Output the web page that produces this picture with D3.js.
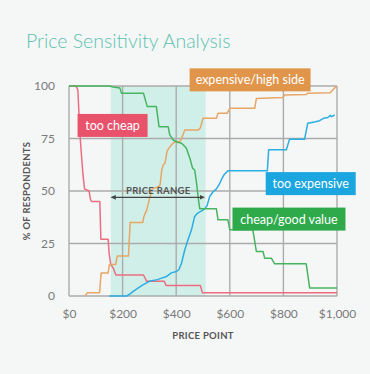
<!DOCTYPE html>
<html>
<head>
<meta charset="utf-8">
<script src="https://cdn.jsdelivr.net/npm/d3@7"></script>
<style>
  body { margin: 0; background: #f5f7f7; }
  svg { display: block; font-family: Lato, "Open Sans", sans-serif; }
</style>
</head>
<body>
<svg id="chart" width="370" height="374"></svg>
<script>
// price ticks and percentage ticks
var xTicks = [0, 200, 400, 600, 800, 1000]
var xTickLabels = ['$0', '$200', '$400', '$600', '$800', '$1,000']
var yTicks = [0, 25, 50, 75, 100]

// acceptable price range (shaded band)
var priceRange = [156, 510]

// series, [price, % of respondents]
var tooCheap = [[0, 100], [25, 100], [30, 99], [33, 98], [38, 85], [42, 75], [46, 68], [52, 58], [58, 51], [75, 50],
  [80, 46], [84, 45], [115, 45], [119, 27], [146, 27], [150, 20], [156, 15], [166, 13], [175, 10], [278, 10],
  [290, 7], [356, 7], [362, 5], [490, 5], [498, 1.5], [1000, 1.5]]

var expensiveHigh = [[60, 0], [68, 1.5], [114, 1.5], [120, 11], [146, 11], [151, 15], [174, 15], [180, 19], [222, 19],
  [228, 35], [275, 35], [280, 38], [290, 41], [300, 46], [310, 51], [334, 52], [340, 53], [346, 60], [352, 62.5],
  [358, 63.2], [366, 69], [376, 71], [386, 72.5], [395, 73.5], [413, 73.5], [420, 75], [432, 79], [482, 79],
  [490, 80], [500, 84.6], [550, 84.6], [556, 87], [590, 87], [600, 89.4], [693, 89.4], [699, 94], [798, 94.5],
  [805, 95.7], [885, 96], [891, 96.5], [975, 96.8], [998, 100]]

var tooExpensive = [[150, 0], [215, 0], [228, 1], [240, 2.2], [260, 4], [277, 5.4], [300, 7], [330, 7.8], [345, 8.5],
  [364, 9.3], [382, 11], [401, 11.7], [410, 12.5], [420, 15.7], [432, 22], [444, 26.8], [457, 31.5], [469, 37.9],
  [480, 39.5], [495, 40.5], [506, 41.5], [515, 43], [525, 47.4], [537, 49.5], [550, 51], [560, 53], [569, 55.5],
  [580, 58], [593, 59.6], [740, 59.6], [745, 69.6], [811, 69.6], [823, 74.7], [879, 74.7], [891, 82.3], [920, 83],
  [935, 83.5], [950, 84.6], [966, 85], [975, 86], [980, 85.4], [991, 86.2]]

var cheapGood = [[0, 100], [150, 100], [165, 99.5], [190, 99], [196, 96.5], [278, 96.5], [292, 90.2], [326, 90.2],
  [336, 80.6], [370, 80.6], [376, 76.7], [389, 74.3], [405, 73.2], [420, 72.7], [426, 72], [438, 70.4], [451, 65.6],
  [461, 60.9], [469, 60], [476, 53.7], [484, 45], [488, 41.5], [550, 41.5], [556, 36.3], [593, 36.3], [600, 31.5],
  [686, 31.5], [699, 21.2], [724, 21.2], [730, 18], [755, 18], [767, 15.4], [885, 15.4], [898, 3.8], [1000, 3.8]]

var seriesNames = ['too cheap', 'expensive/high side', 'too expensive', 'cheap/good value']
var seriesData = [tooCheap, expensiveHigh, tooExpensive, cheapGood]
var seriesColors = ['#e8536b', '#e0954b', '#1ba6e0', '#2eaa4b']
var lineColors = ['#ec6d80', '#e7a665', '#2aaee3', '#47b560']
// label box anchors, top-left in data units
var labelAnchors = [[32, 86.7], [450, 108.4], [734, 59], [610, 42.1]]

var svg = d3.select('#chart')
var margin = { left: 69, right: 33, top: 86, bottom: 78 }
var width = 370, height = 374

var x = d3.scaleLinear().domain([0, 1000]).range([margin.left, width - margin.right])
var y = d3.scaleLinear().domain([0, 100]).range([height - margin.bottom, margin.top])

// title
svg.append('text')
  .attr('x', 26).attr('y', 48)
  .attr('fill', '#5cc2ae')
  .attr('font-size', 19.5)
  .attr('font-weight', 300)
  .text('Price Sensitivity Analysis')

// price range band
svg.append('rect')
  .attr('x', x(priceRange[0])).attr('y', y(100))
  .attr('width', x(priceRange[1]) - x(priceRange[0]))
  .attr('height', y(0) - y(100))
  .attr('fill', '#d0efe8')

// grid
var grid = svg.append('g').attr('class', 'grid')
grid.selectAll('line.v').data(xTicks).enter().append('line')
  .attr('x1', d => x(d)).attr('x2', d => x(d))
  .attr('y1', y(100)).attr('y2', y(0))
  .attr('stroke', '#ababab').attr('stroke-width', 1.4)
grid.selectAll('line.h').data(yTicks).enter().append('line')
  .attr('x1', x(0)).attr('x2', x(1000))
  .attr('y1', d => y(d)).attr('y2', d => y(d))
  .attr('stroke', '#ababab').attr('stroke-width', 1.4)

// axes
var xAxis = d3.axisBottom(x).tickValues(xTicks).tickFormat((d, i) => xTickLabels[i]).tickSize(0).tickPadding(13)
var yAxis = d3.axisLeft(y).tickValues(yTicks).tickSize(0).tickPadding(14)
var gx = svg.append('g').attr('transform', 'translate(0,' + y(0) + ')').call(xAxis)
var gy = svg.append('g').attr('transform', 'translate(' + x(0) + ',0)').call(yAxis)
;[gx, gy].forEach(g => {
  g.select('.domain').remove()
  g.selectAll('text').attr('fill', '#7a7a7a').attr('font-size', 12).attr('font-family', 'Lato, sans-serif')
})

svg.append('text')
  .attr('x', x(500)).attr('y', 339)
  .attr('text-anchor', 'middle')
  .attr('fill', '#555').attr('font-size', 9.5).attr('font-weight', 700)
  .attr('letter-spacing', 0.3)
  .text('PRICE POINT')

svg.append('text')
  .attr('transform', 'translate(30,' + y(50) + ') rotate(-90)')
  .attr('text-anchor', 'middle')
  .attr('fill', '#555').attr('font-size', 9.5).attr('font-weight', 700)
  .attr('letter-spacing', 0.3)
  .text('% OF RESPONDENTS')

// lines
var line = d3.line().x(d => x(d[0])).y(d => y(d[1]))
svg.append('g').selectAll('path').data(seriesData).enter().append('path')
  .attr('d', line)
  .attr('fill', 'none')
  .attr('stroke', (d, i) => lineColors[i])
  .attr('stroke-width', 1.5)
  .attr('stroke-linejoin', 'round')

// price range arrow
svg.append('defs').selectAll('marker').data(['start', 'end']).enter().append('marker')
  .attr('id', d => 'arrow-' + d)
  .attr('viewBox', '0 0 10 10').attr('refX', 5).attr('refY', 5)
  .attr('markerWidth', 5).attr('markerHeight', 5)
  .attr('orient', d => d === 'start' ? 'auto-start-reverse' : 'auto')
  .append('path').attr('d', 'M0,1 L9,5 L0,9 z').attr('fill', '#444')

svg.append('line')
  .attr('x1', x(priceRange[0]) + 2).attr('x2', x(priceRange[1]) - 3)
  .attr('y1', y(47)).attr('y2', y(47))
  .attr('stroke', '#444').attr('stroke-width', 1.2)
  .attr('marker-start', 'url(#arrow-start)')
  .attr('marker-end', 'url(#arrow-end)')

svg.append('text')
  .attr('x', (x(priceRange[0]) + x(priceRange[1])) / 2).attr('y', y(50) + 3)
  .attr('text-anchor', 'middle')
  .attr('fill', '#555').attr('font-size', 9.5).attr('font-weight', 700)
  .attr('letter-spacing', 0.3)
  .text('PRICE RANGE')

// label boxes
var boxW = [70, 121, 90, 113], boxH = 23
var labels = svg.append('g').selectAll('g').data(seriesNames).enter().append('g')
  .attr('transform', (d, i) => 'translate(' + x(labelAnchors[i][0]) + ',' + y(labelAnchors[i][1]) + ')')
labels.append('rect')
  .attr('width', (d, i) => boxW[i]).attr('height', boxH)
  .attr('fill', (d, i) => seriesColors[i])
labels.append('text')
  .attr('x', (d, i) => boxW[i] / 2).attr('y', boxH / 2 + 4.5)
  .attr('text-anchor', 'middle')
  .attr('fill', '#fff').attr('font-size', 12.5)
  .text(d => d)
</script>
</body>
</html>
